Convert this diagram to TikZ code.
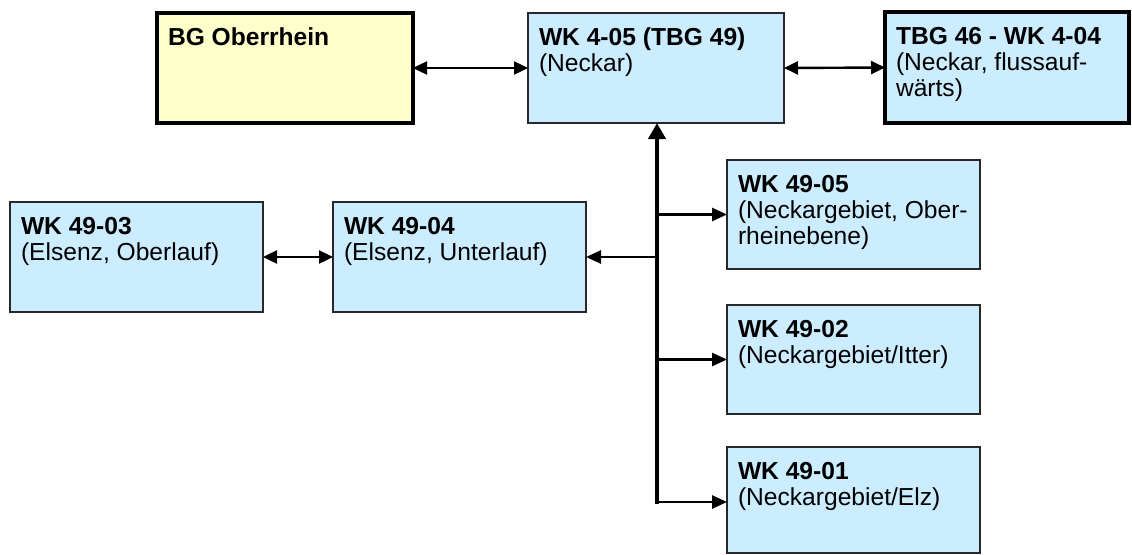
\documentclass[tikz,border=0pt]{standalone}
\usepackage{fontspec}
\setmainfont{Liberation Sans}
\usetikzlibrary{arrows.meta,calc}
\definecolor{boxblue}{RGB}{204,236,255}
\definecolor{boxyellow}{RGB}{255,255,204}
\definecolor{edgegray}{RGB}{40,40,40}
\newcommand{\bxt}[3]{\parbox[t][#2][t]{#1}{\raggedright\rule{0pt}{32pt}#3}}
\begin{document}
\begin{tikzpicture}[x=1pt,y=-1pt,
  wkbox/.style={draw=edgegray, line width=1.5pt, fill=boxblue, inner xsep=11pt, inner ysep=0pt,
    outer sep=0pt, anchor=north west, font=\fontsize{24.6}{26}\selectfont},
  heavybox/.style={wkbox, draw=black, line width=3.5pt},
  tipA/.tip={Triangle[length=14pt,width=13pt]},
  link/.style={line width=2.4pt, tipA-tipA},
  branch/.style={line width=2.6pt, -{Triangle[length=15pt,width=13pt]}},
  trunk/.style={line width=4.2pt, -{Triangle[length=16pt,width=17pt]}}
]
\useasboundingbox (0,0) rectangle (1132,554);
% top row
\node[heavybox, fill=boxyellow] (bg) at (157,13) {\bxt{234pt}{110pt}{\textbf{BG Oberrhein}}};
\node[wkbox] (wk405) at (528,13) {\bxt{234pt}{110pt}{\textbf{WK 4-05 (TBG 49)}\\(Neckar)}};
\node[heavybox] (tbg) at (885,12) {\bxt{222pt}{111pt}{\textbf{TBG 46 - WK 4-04}\\(Neckar, flussauf-\\wärts)}};
% left row
\node[wkbox] (wk4903) at (10,202) {\bxt{231pt}{110pt}{\textbf{WK 49-03}\\(Elsenz, Oberlauf)}};
\node[wkbox] (wk4904) at (333,202) {\bxt{231pt}{110pt}{\textbf{WK 49-04}\\(Elsenz, Unterlauf)}};
% right column
\node[wkbox] (wk4905) at (727,160) {\bxt{231pt}{109pt}{\textbf{WK 49-05}\\(Neckargebiet, Ober-\\rheinebene)}};
\node[wkbox] (wk4902) at (727,305) {\bxt{231pt}{109pt}{\textbf{WK 49-02}\\(Neckargebiet/Itter)}};
\node[wkbox] (wk4901) at (727,447) {\bxt{231pt}{106pt}{\textbf{WK 49-01}\\(Neckargebiet/Elz)}};
% connectors
\draw[link] (bg.east) -- (wk405.west);
\draw[link] (wk405.east) -- (tbg.west);
\draw[link] (wk4903.east) -- (wk4904.west);
\coordinate (trunkbot) at (657,502);
\draw[trunk] ($(trunkbot)+(0,2.1)$) -- (trunkbot |- wk405.south);
\draw[branch] (trunkbot |- wk4905.west) -- (wk4905.west);
\draw[branch] (trunkbot |- wk4904.east) -- (wk4904.east);
\draw[branch] (trunkbot |- wk4902.west) -- (wk4902.west);
\draw[branch] ($(trunkbot)+(-2,0)$) -- (trunkbot -| wk4901.west);
\end{tikzpicture}
\end{document}
